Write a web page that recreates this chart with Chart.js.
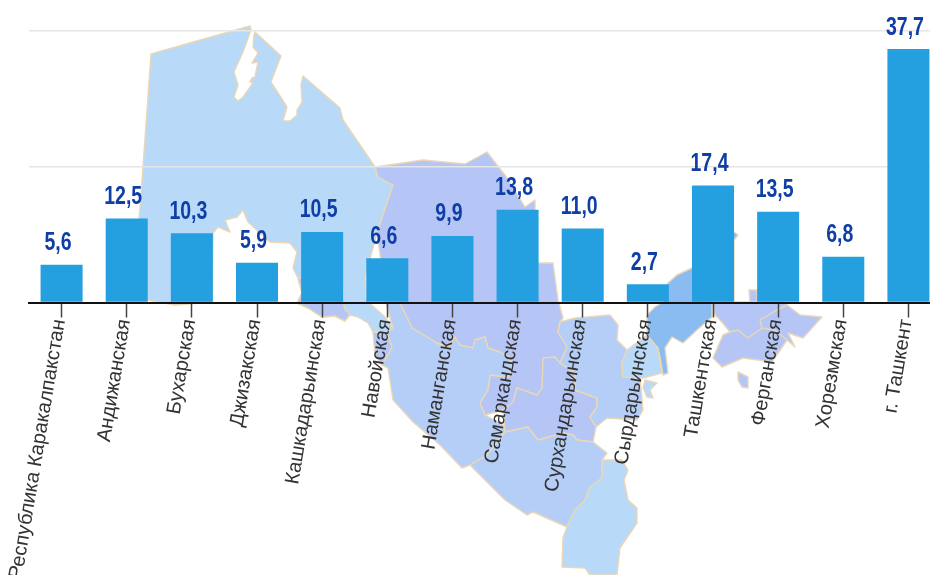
<!DOCTYPE html>
<html><head><meta charset="utf-8">
<style>html,body{margin:0;padding:0;background:#fff;width:930px;height:575px;overflow:hidden}canvas{display:block}</style>
<script src="https://cdn.jsdelivr.net/npm/chart.js@4"></script></head>
<body><canvas id="c" width="941" height="575" style="width:941px;height:575px"></canvas>
<script>
const categories=["Республика Каракалпакстан","Андижанская","Бухарская","Джизакская","Кашкадарьинская","Навойская","Наманганская","Самаркандская","Сурхандарьинская","Сырдарьинская","Ташкентская","Ферганская","Хорезмская","г. Ташкент"];
const values=[5.6,12.5,10.3,5.9,10.5,6.6,9.9,13.8,11.0,2.7,17.4,13.5,6.8,37.7];
const gridTicks=[0,20.15,40.45];

// background map of the country (decoration, not data)
const LIGHT="#b8d9f7",MID="#b5cef7",PURPLE="#b5c5f5",DEEP="#8abcf2";
const mapShapes=[
 [LIGHT,[[151,54],[250,26],[251,30],[243,52],[234,72],[238,85],[234,97],[238,101],[243,97],[253,83],[250,82],[252,78],[255,77],[258,62],[252,63],[258,53],[253,47],[254,35],[255,32],[281,56],[271,82],[287,107],[283,121],[290,121],[297,115],[297,110],[302,102],[301,85],[303,76],[340,108],[343,120],[375,167],[378,177],[393,185],[377,233],[365,277],[366,300],[385,317],[393,328],[387,333],[373,332],[368,323],[358,317],[350,315],[345,321],[335,316],[322,317],[308,308],[297,303],[302,293],[298,278],[293,268],[297,252],[290,243],[270,242],[248,222],[243,210],[237,217],[225,220],[230,232],[218,227],[213,233],[212,302],[175,305],[148,300],[138,300],[138,233],[143,167]]],
 [PURPLE,[[375,167],[423,160],[465,164],[487,152],[497,165],[505,175],[525,207],[535,200],[535,263],[553,263],[558,300],[563,318],[560,322],[558,332],[567,347],[560,363],[575,373],[575,390],[597,398],[597,407],[590,417],[596,427],[593,442],[577,440],[573,435],[563,433],[538,440],[528,427],[505,432],[503,410],[485,415],[480,403],[488,390],[490,375],[508,377],[512,368],[510,358],[500,352],[488,348],[485,337],[475,340],[473,348],[460,345],[455,337],[448,348],[437,343],[412,328],[400,303],[385,290],[377,233],[393,185],[378,177]]],
 [PURPLE,[[298,278],[343,285],[343,300],[345,310],[350,314],[345,321],[335,316],[322,317],[308,308],[297,303],[302,293]]],
 [MID,[[385,300],[400,303],[412,328],[437,343],[448,348],[455,337],[460,345],[473,348],[475,340],[485,337],[488,348],[500,352],[510,358],[512,368],[508,377],[490,375],[488,390],[480,403],[485,415],[503,425],[505,432],[487,455],[470,465],[462,468],[440,445],[413,422],[393,400],[388,368],[382,365],[392,347],[387,333],[393,328]]],
 [PURPLE,[[373,332],[387,333],[392,347],[382,365],[375,355]]],
 [MID,[[470,465],[487,455],[505,432],[528,427],[538,440],[563,433],[573,435],[577,440],[593,442],[607,453],[602,460],[602,478],[590,487],[585,500],[575,510],[567,527],[533,512],[527,515],[505,500]]],
 [LIGHT,[[602,460],[622,460],[628,470],[624,480],[628,500],[637,508],[637,523],[620,548],[617,575],[590,575],[585,568],[562,567],[563,538],[567,527],[575,510],[585,500],[590,487],[602,478]]],
 [MID,[[560,322],[575,318],[610,315],[618,325],[617,340],[627,350],[622,363],[623,377],[640,378],[643,410],[637,420],[607,418],[596,427],[590,417],[597,407],[597,398],[575,390],[575,373],[560,363],[567,347],[558,332]]],
 [LIGHT,[[647,335],[658,348],[660,363],[662,373],[643,378],[623,377],[622,363],[627,350]]],
 [LIGHT,[[645,380],[657,383],[650,390],[653,398],[647,397],[643,388]]],
 [DEEP,[[668,283],[677,275],[692,268],[712,250],[734,232],[738,235],[734,240],[734,302],[712,302],[712,317],[697,330],[683,343],[672,337],[665,348],[668,373],[663,375],[660,357],[658,348],[647,335],[647,315],[655,307],[663,302]]],
 [PURPLE,[[712,302],[785,302],[787,305],[800,315],[822,317],[803,338],[788,333],[795,347],[787,340],[772,362],[743,358],[722,367],[713,358],[723,335],[730,332],[720,320],[715,315]]],
 [PURPLE,[[750,302],[749,290],[757,290],[757,302]]],
 [PURPLE,[[738,372],[748,377],[748,388],[742,387],[738,380]]]
];
const mapBorders=[
 [[517,388],[537,395],[542,388],[543,358],[555,357],[560,363]],
 [[517,388],[513,402],[503,410]],
 [[730,332],[738,330],[748,338],[762,328],[760,320],[777,310],[787,305]],
 [[762,328],[775,330],[787,340]]
];
const mapPlugin={id:"map",beforeDraw(chart){
  const ctx=chart.ctx;ctx.save();ctx.lineJoin="round";ctx.lineCap="round";ctx.strokeStyle="#ead7b6";ctx.lineWidth=1.4;
  const trace=pts=>pts.forEach((p,i)=>i?ctx.lineTo(p[0],p[1]):ctx.moveTo(p[0],p[1]));
  for(const [col,pts] of mapShapes){
    ctx.beginPath();trace(pts);ctx.closePath();
    ctx.fillStyle=col;ctx.fill();ctx.stroke();
  }
  for(const pts of mapBorders){ctx.beginPath();trace(pts);ctx.stroke();}
  ctx.restore();
}};
const labelPlugin={id:"vals",afterDatasetsDraw(chart){
  const ctx=chart.ctx,m=chart.getDatasetMeta(0);ctx.save();
  ctx.font='bold 25px "Liberation Sans"';ctx.fillStyle="#0f3fa6";ctx.textAlign="center";ctx.textBaseline="alphabetic";
  m.data.forEach((b,i)=>{
    ctx.save();ctx.translate(b.x-3.5,b.y-14.5);ctx.scale(.78,1);
    ctx.fillText(values[i].toFixed(1).replace(".",","),0,0);ctx.restore();
  });
  ctx.restore();
}};
new Chart(document.getElementById("c"),{
 type:"bar",
 data:{labels:categories,datasets:[{data:values,backgroundColor:"#249fdf",categoryPercentage:1,barPercentage:.645}]},
 plugins:[mapPlugin,labelPlugin],
 options:{responsive:false,animation:false,
  layout:{padding:0},
  plugins:{legend:{display:false},tooltip:{enabled:false}},
  scales:{
   x:{offset:true,
      grid:{offset:false,drawOnChartArea:false,tickLength:15,tickColor:"#444",tickWidth:1.5},
      border:{display:true,color:"#111",width:2},
      ticks:{autoSkip:false,minRotation:80.5,maxRotation:80.5,padding:0,labelOffset:-2,color:"#333",font:{family:'"Liberation Sans"',size:20}},
      afterFit(s){s.height=272.5;s.paddingLeft=0;s.paddingRight=0;}},
   y:{min:0,max:45,
      grid:{color:"#e6e6e6",lineWidth:1.5,drawTicks:false},
      border:{display:false},
      ticks:{display:false},
      afterBuildTicks(s){s.ticks=gridTicks.map(v=>({value:v}));},
      afterFit(s){s.width=29;}}
  }}
});
</script></body></html>
